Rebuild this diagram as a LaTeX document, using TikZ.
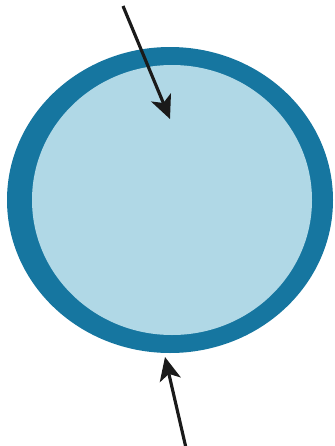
\documentclass[tikz,border=0pt]{standalone}
\usepackage{tikz}
\usetikzlibrary{arrows.meta}
\definecolor{ringblue}{RGB}{22,118,160}
\definecolor{cellblue}{RGB}{176,216,230}
\definecolor{arrowblack}{RGB}{26,26,26}

\begin{document}
\begin{tikzpicture}[x=0.03cm, y=-0.03cm,
    flow/.style={draw=arrowblack, line width=2.7pt,
      -{Stealth[length=0.7cm, width=0.64cm, inset=0.18cm]}}]
        \useasboundingbox (0,0) rectangle (334,446);
        % Outer wall (dark ring) and inner content
        \fill[ringblue] (170,200) ellipse [x radius=163, y radius=153];
        \fill[cellblue] (172,200) ellipse [x radius=140, y radius=135];
        % Arrow ends
        \coordinate (inTail) at (123,6);
        \coordinate (inTip) at (170,119);
        \coordinate (outTail) at (186,448);
        \coordinate (outTip) at (165,357);
        % Arrows
        \draw[flow] (inTail) -- (inTip);
        \draw[flow] (outTail) -- (outTip);
      \end{tikzpicture}
\end{document}
